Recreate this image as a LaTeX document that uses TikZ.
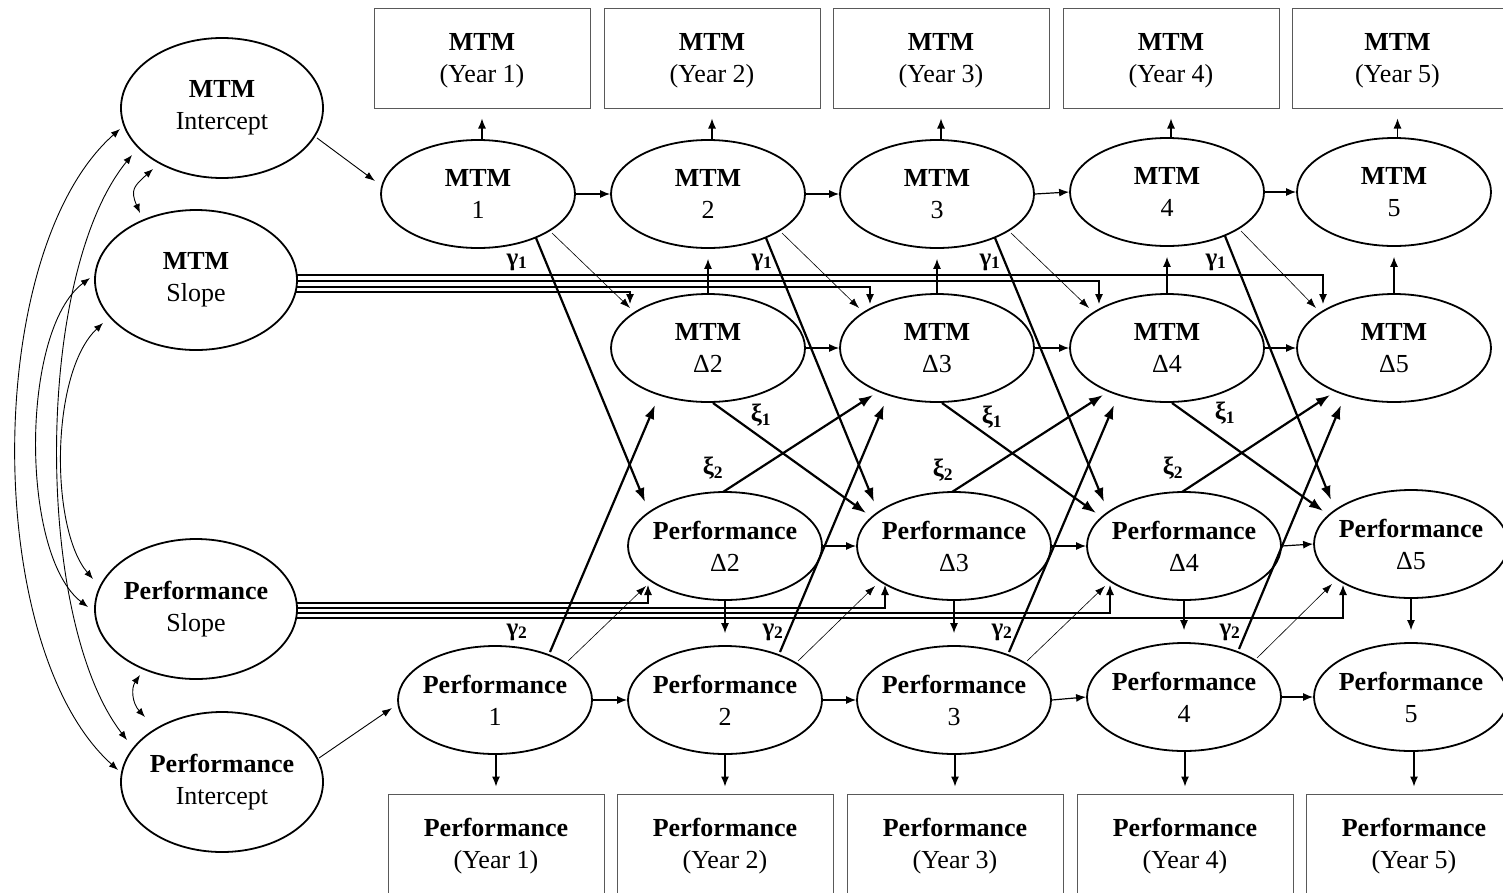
\documentclass[tikz,border=0pt]{standalone}
\usepackage{fontspec}
\setmainfont{Liberation Serif}
\usetikzlibrary{shapes.geometric,arrows.meta,calc}
\begin{document}
\begin{tikzpicture}[x=1pt,y=-1pt,
  lat/.style={ellipse, draw, line width=1.8pt, minimum width=194pt, minimum height=108pt, inner xsep=-14pt, inner ysep=0pt, align=center, font=\fontsize{26}{32}\selectfont},
  gf/.style={lat, minimum width=202pt, minimum height=140pt},
  obs/.style={draw=black!65, line width=1pt, minimum width=216pt, minimum height=100pt, align=center, inner sep=0pt, text depth=0pt, font=\fontsize{26}{32}\selectfont},
  harr/.style={line width=1.2pt, -{Latex[length=10pt,width=8pt]}},
  tharr/.style={line width=0.6pt, -{Latex[length=10pt,width=7pt]}},
  iarr/.style={line width=0.9pt, -{Latex[length=10pt,width=7pt]}},
  tkarr/.style={line width=2.2pt, -{Latex[length=14pt,width=10pt]}},
  cov/.style={line width=0.9pt, {Latex[length=9pt,width=7pt]}-{Latex[length=9pt,width=7pt]}},
  sline/.style={line width=1.1pt, -{Latex[length=10pt,width=8pt]}},
  glab/.style={font=\fontsize{25}{25}\selectfont\bfseries, inner sep=0pt},
]
\useasboundingbox (0,0) rectangle (1503,892);
\clip (0,0) rectangle (1503,892);

% growth factors
\node[gf] (gmi) at (222,108) {\textbf{MTM}\\Intercept};
\node[gf] (gms) at (196,280) {\textbf{MTM}\\Slope};
\node[gf] (gps) at (196,609) {\textbf{Performance}\\Slope};
\node[gf] (gpi) at (222,782) {\textbf{Performance}\\Intercept};

% latent rows
\foreach \i/\x/\y in {1/478/194, 2/708/194, 3/937/194, 4/1167/192, 5/1394/192}
  \node[lat] (m\i) at (\x,\y) {\textbf{MTM}\\\i};
\foreach \i/\x in {2/708, 3/937, 4/1167, 5/1394}
  \node[lat] (md\i) at (\x,348) {\textbf{MTM}\\Δ\i};
\foreach \i/\x/\y in {2/725/546, 3/954/546, 4/1184/546, 5/1411/544}
  \node[lat] (pd\i) at (\x,\y) {\textbf{Performance}\\Δ\i};
\foreach \i/\x/\y in {1/495/700, 2/725/700, 3/954/700, 4/1184/697, 5/1411/697}
  \node[lat] (p\i) at (\x,\y) {\textbf{Performance}\\\i};

% observed boxes
\foreach \i/\x in {1/482, 2/712, 3/941, 4/1171}
  \node[obs] (y\i) at (\x,58) {\textbf{MTM}\\(Year \i)};
\node[obs, minimum width=211pt] (y5) at (1397.5,58) {\textbf{MTM}\\(Year 5)};
\foreach \i/\x in {1/496, 2/725, 3/955, 4/1185, 5/1414}
  \node[obs, minimum height=99pt] (z\i) at (\x,843.5) {\textbf{Performance}\\(Year \i)};

% measurement arrows
\foreach \i in {1,...,5} {
  \draw[harr, shorten >=10pt] (y\i.south |- m\i.north) -- (y\i.south);
  \draw[harr, shorten >=7pt] (z\i.north |- p\i.south) -- (z\i.north);
}

% autoregressive and cross paths
\foreach \i/\j in {1/2,2/3,3/4,4/5} {
  \draw[harr] (m\i.east) -- (m\j.west);
  \draw[harr] (p\i.east) -- (p\j.west);
  \draw[tharr] ($(m\i.center)+(74,39)$) -- ($(md\j.center)+(-78,-40)$);
  \draw[tharr] ($(p\i.center)+(73,-39)$) -- ($(pd\j.center)+(-79,40)$);
  \draw[tkarr] ($(m\i.center)+(58,44)$) -- ($(pd\j.center)+(-80,-44)$);
  \draw[tkarr] ($(p\i.center)+(55,-48)$) -- ($(md\j.center)+(-53,57)$);
}
\foreach \i/\j in {2/3,3/4,4/5} {
  \draw[harr] (md\i.east) -- (md\j.west);
  \draw[harr] (pd\i.east) -- (pd\j.west);
  \draw[tkarr] ($(md\i.center)+(5,55)$) -- ($(pd\j.center)+(-88,-33)$);
  \draw[tkarr] ($(pd\i.center)+(-2,-54)$) -- ($(md\j.center)+(-64,47)$);
}
\foreach \i in {2,...,5} {
  \draw[harr, shorten >=10pt] (md\i.north) -- (md\i.north |- m\i.south);
  \draw[harr, shorten >=12pt] (pd\i.south) -- (pd\i.south |- p\i.north);
}

% intercept arrows
\draw[iarr] ($(gmi.center)+(95,30)$) -- ($(m1.center)+(-103,-13)$);
\draw[iarr] ($(gpi.center)+(97,-24)$) -- ($(p1.center)+(-103,8)$);

% slope loadings
\draw[sline] ($(gms.center)+(100,12)$) -| ($(md2.center)+(-78,-44)$);
\draw[sline] ($(gms.center)+(100,7)$) -| ($(md3.center)+(-67,-44)$);
\draw[sline] ($(gms.center)+(100,1)$) -| ($(md4.center)+(-68,-44)$);
\draw[sline] ($(gms.center)+(100,-5)$) -| ($(md5.center)+(-71,-44)$);
\draw[sline] ($(gps.center)+(100,-6)$) -| ($(pd2.center)+(-77,39)$);
\draw[sline] ($(gps.center)+(100,-1)$) -| ($(pd3.center)+(-69,39)$);
\draw[sline] ($(gps.center)+(100,4)$) -| ($(pd4.center)+(-74,39)$);
\draw[sline] ($(gps.center)+(100,9)$) -| ($(pd5.center)+(-68,41)$);

% covariances
\draw[cov] ($(gmi.center)+(-69,61)$) .. controls ($(gmi.center)+(-88,78)$) and ($(gms.center)+(-66,-90)$) .. ($(gms.center)+(-56,-67)$);
\draw[cov] ($(gps.center)+(-56,66)$) .. controls ($(gps.center)+(-65,79)$) and ($(gpi.center)+(-90,-79)$) .. ($(gpi.center)+(-77,-65)$);
\draw[cov] ($(gmi.center)+(-102,21)$) .. controls ($(gmi.center)+(-240,143)$) and ($(gpi.center)+(-240,-134)$) .. ($(gpi.center)+(-104,-12)$);
\draw[cov] ($(gmi.center)+(-90,47)$) .. controls ($(gmi.center)+(-188,167)$) and ($(gpi.center)+(-188,-162)$) .. ($(gpi.center)+(-95,-42)$);
\draw[cov] ($(gms.center)+(-106,-2)$) .. controls ($(gms.center)+(-176,50)$) and ($(gps.center)+(-176,-54)$) .. ($(gps.center)+(-108,-2)$);
\draw[cov] ($(gms.center)+(-93,43)$) .. controls ($(gms.center)+(-146,93)$) and ($(gps.center)+(-146,-80)$) .. ($(gps.center)+(-103,-30)$);

% path labels
\foreach \k/\x in {1/517, 2/762, 3/990, 4/1216}
  \node[glab] (ga\k) at (\x,262) {γ\textsubscript{1}};
\foreach \k/\x in {1/517, 2/773, 3/1002, 4/1230}
  \node[glab] (gb\k) at (\x,632) {γ\textsubscript{2}};
\foreach \k/\x/\y in {1/761/415, 2/992/417, 3/1225/413}
  \node[glab] (xa\k) at (\x,\y) {ξ\textsubscript{1}};
\foreach \k/\x/\y in {1/713/468, 2/943/470, 3/1173/468}
  \node[glab] (xb\k) at (\x,\y) {ξ\textsubscript{2}};
\end{tikzpicture}
\end{document}
